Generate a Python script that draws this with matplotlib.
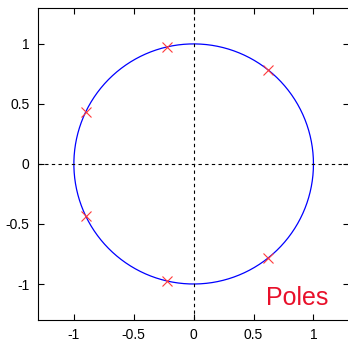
import numpy as np
import matplotlib
matplotlib.use("Agg")
import matplotlib.pyplot as plt

plt.rcParams["font.family"] = ["Liberation Sans", "DejaVu Sans"]

# pole locations (real, imaginary)
pole_re = [0.6235, -0.2225, -0.9010, -0.9010, -0.2225, 0.6235]
pole_im = [0.7818, 0.9749, 0.4339, -0.4339, -0.9749, -0.7818]

ticks = [-1, -0.5, 0, 0.5, 1]
tick_labels = ["-1", "-0.5", "0", "0.5", "1"]

fig = plt.figure(figsize=(3.48, 3.43), dpi=100)
ax = fig.add_axes([0.109, 0.067, 0.895, 0.910])

# unit circle
theta = np.linspace(0, 2 * np.pi, 400)
ax.plot(np.cos(theta), np.sin(theta), color="blue", linewidth=0.9)

# real and imaginary axes
ax.axhline(0, color="black", linestyle=(0, (3, 3)), linewidth=0.8)
ax.axvline(0, color="black", linestyle=(0, (3, 3)), linewidth=0.8)

ax.plot(pole_re, pole_im, linestyle="none", marker="x", color="#ff3a3a",
        markersize=7, markeredgewidth=0.8)

ax.text(0.6, -1.175, "Poles", color="#e8102a", fontsize=18)

ax.set_xlim(-1.3, 1.3)
ax.set_ylim(-1.3, 1.3)
ax.set_xticks(ticks)
ax.set_xticklabels(tick_labels)
ax.set_yticks(ticks)
ax.set_yticklabels(tick_labels)
ax.tick_params(direction="in", top=True, right=True, length=4, labelsize=10,
               width=0.8, pad=6)
for s in ax.spines.values():
    s.set_linewidth(0.8)

fig.savefig("out.png", dpi=100)
